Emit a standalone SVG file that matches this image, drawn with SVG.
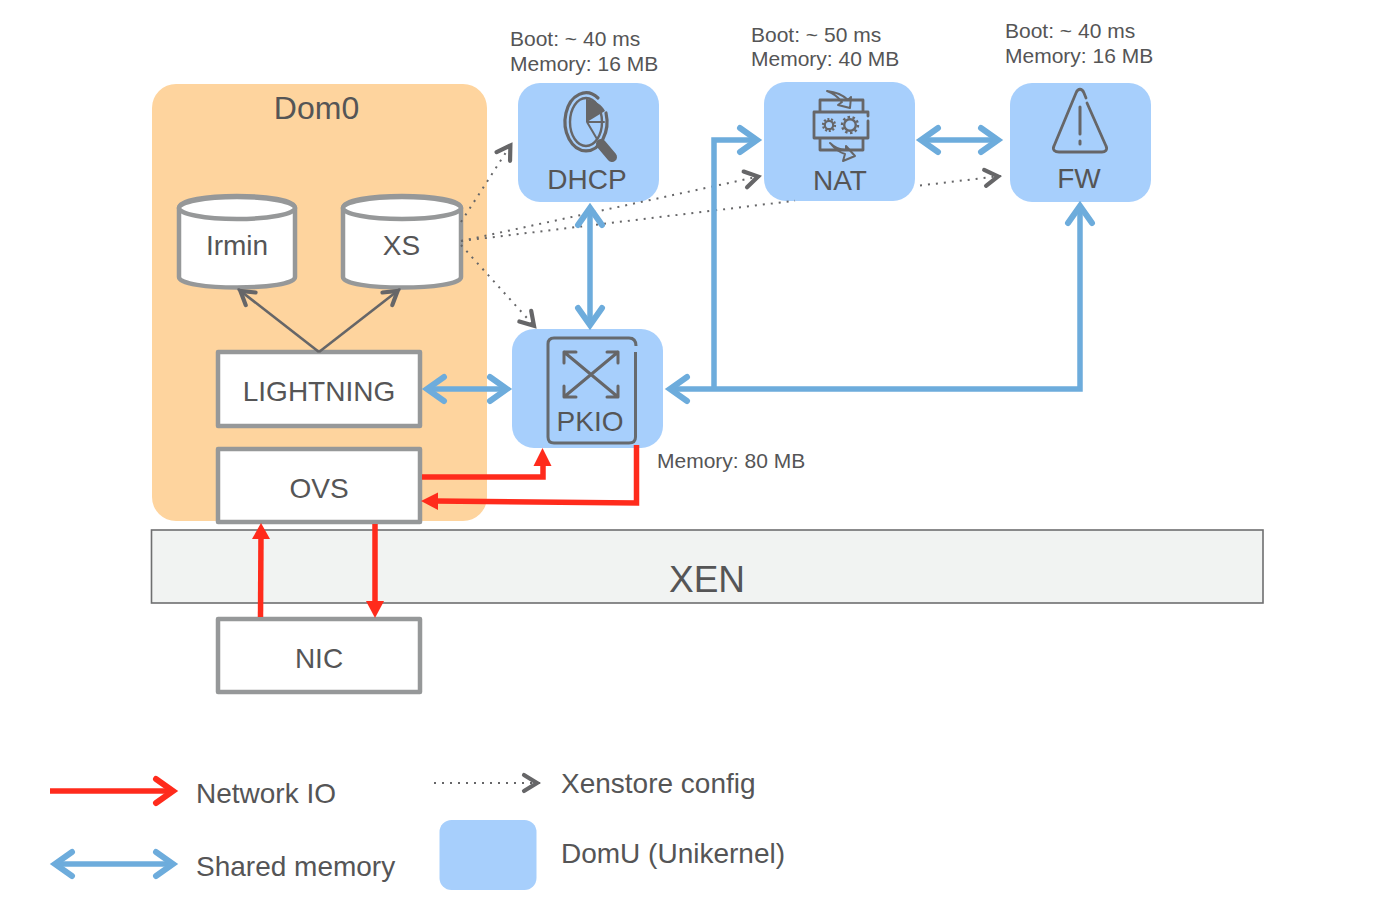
<svg xmlns="http://www.w3.org/2000/svg" width="1390" height="904" viewBox="0 0 1390 904">
<style>
text{font-family:"Liberation Sans",Arial,sans-serif;fill:#555556}
.lbl{font-size:28px;text-anchor:middle}
.note{font-size:21px}
.leg{font-size:28px}
.domu{fill:#a7cffc}
.box{fill:#fff;stroke:#969899;stroke-width:4.5;stroke-linejoin:round}
.ic{fill:none;stroke:#666668;stroke-width:2.8;stroke-linejoin:round;stroke-linecap:round}
.thin{stroke-width:2}
.icf{fill:#666668;stroke:none}
.blue{fill:none;stroke:#6dacdc;stroke-width:5.500}
.red{fill:none;stroke:#ff2b1c;stroke-width:5.500}
.redf{fill:#ff2b1c}
.dot{fill:none;stroke:#666668;stroke-width:2;stroke-dasharray:2 6}
.gray{fill:none;stroke:#666668;stroke-width:2.600}
</style>
<defs>
<marker id="mb" markerUnits="userSpaceOnUse" markerWidth="34" markerHeight="34" refX="25" refY="15" orient="auto-start-reverse" overflow="visible"><path d="M7 3 L24 15 L7 27" fill="none" stroke="#6dacdc" stroke-width="6" stroke-linecap="round"/></marker>
<marker id="mr" markerUnits="userSpaceOnUse" markerWidth="34" markerHeight="34" refX="25" refY="15" orient="auto" overflow="visible"><path d="M7 3 L24 15 L7 27" fill="none" stroke="#ff2b1c" stroke-width="6" stroke-linecap="round"/></marker>
<marker id="mg" markerUnits="userSpaceOnUse" markerWidth="26" markerHeight="26" refX="20" refY="11" orient="auto" overflow="visible"><path d="M4 3 L17 11 L4 19" fill="none" stroke="#666668" stroke-width="4.200" stroke-linecap="round"/></marker>
</defs>

<g id="dom0"><rect x="152" y="84" width="335" height="437" rx="24" fill="#fed49e"/><text class="lbl" x="316.500" y="119" style="font-size:32px">Dom0</text></g>
<g id="xen"><rect x="151.500" y="530" width="1111.500" height="73" fill="#f1f3f2" stroke="#6f6f70" stroke-width="1.600"/><text class="lbl" x="707" y="592" style="font-size:37px">XEN</text></g>

<g id="dhcp"><rect class="domu" x="518" y="83" width="141" height="119" rx="22"/>
<path class="ic" style="stroke-width:3.200" d="M598 98 A21 29 0 1 0 606 113"/>
<ellipse class="ic" style="stroke-width:2.400" cx="586" cy="122" rx="16" ry="24"/>
<path class="icf" d="M586 99 C595 100 602 105 605 111 L587 122 Z"/>
<path class="ic thin" d="M587 100 V122 H604 M587 122 L597 139"/>
<path d="M601 144 L612 157" stroke="#666668" stroke-width="10" stroke-linecap="round" fill="none"/>
<text class="lbl" x="587" y="189">DHCP</text></g>

<g id="nat"><rect class="domu" x="764" y="82" width="151" height="119" rx="22"/>
<path class="ic" d="M820 112 V100 H863 V112 M868 116 V112 H814 V138 H868 V121 M820 138 V150 H863 V138"/>
<path class="ic thin" d="M827 91 C836 92 843 95 848 100 L851 97 L850 108 L838 105 L842 102 C838 97 833 93 827 91 Z"/>
<path class="ic thin" d="M830 143 C834 148 838 152 845 154 L843 161 L855 156 L846 146 L846 150 C840 150 834 147 830 143 Z"/>
<circle class="ic" cx="829" cy="125" r="4.200" style="stroke-width:2.200"/>
<circle cx="829" cy="125" r="6" fill="none" stroke="#666668" stroke-width="2.200" stroke-dasharray="2 1.700"/>
<circle class="ic" cx="850" cy="125" r="5.800" style="stroke-width:2.400"/>
<circle cx="850" cy="125" r="8" fill="none" stroke="#666668" stroke-width="2.400" stroke-dasharray="2.500 2.500"/>
<text class="lbl" x="840" y="189.500">NAT</text></g>

<g id="fw"><rect class="domu" x="1010" y="83" width="141" height="119" rx="22"/>
<path class="ic" d="M1087 103 L1106 146 C1108 150 1105 152 1102 152 L1059 152 C1055 152 1052 150 1054 146 L1076 93 C1078 88 1082 88 1084 93 L1086 98"/>
<path class="ic" style="stroke-width:3" d="M1080 107 V134 M1080 141 V144"/>
<text class="lbl" x="1079" y="188">FW</text></g>

<g id="pkio"><rect class="domu" x="512" y="329" width="151" height="119" rx="22"/>
<path d="M635.500 352 V437 Q635.500 443 629 443 H554 Q548 443 548 437 V344 Q548 338 554 338 H629 Q636 338 636 346" fill="none" stroke="#666a6e" stroke-width="3"/>
<path class="ic" style="stroke-width:3" d="M564 352 L618 397 M618 352 L564 397 M564 363 V352 H576 M607 352 H618 V363 M564 386 V397 H576 M618 386 V397 H607"/>
<text class="lbl" x="590" y="430.500">PKIO</text></g>

<g id="irmin"><path class="box" d="M179 208 C179 192 295 192 295 208 V277 C295 291 179 291 179 277 Z"/><ellipse class="box" cx="237" cy="208" rx="58" ry="11"/><text class="lbl" x="237" y="255">Irmin</text></g>
<g id="xs"><path class="box" d="M343 208 C343 192 461 192 461 208 V277 C461 291 343 291 343 277 Z"/><ellipse class="box" cx="402" cy="208" rx="59" ry="11"/><text class="lbl" x="401.500" y="255">XS</text></g>
<g id="lightning"><rect class="box" x="218" y="352" width="202" height="74"/><text class="lbl" x="319" y="401">LIGHTNING</text></g>
<g id="ovs"><rect class="box" x="218" y="449" width="202" height="73"/><text class="lbl" x="319" y="498">OVS</text></g>
<g id="nic"><rect class="box" x="218" y="619" width="202" height="73"/><text class="lbl" x="319" y="668">NIC</text></g>

<g id="connectors">
<path class="dot" d="M461 222 L512 143" marker-end="url(#mg)"/>
<path class="dot" d="M461 241 L761 176" marker-end="url(#mg)"/>
<path class="dot" d="M461 241 L795 200.700"/>
<path class="dot" d="M920 185.500 L1001 176" marker-end="url(#mg)"/>
<path class="dot" d="M461 245 L536 328" marker-end="url(#mg)"/>
<path class="gray" d="M319 352 L238 289" marker-end="url(#mg)"/>
<path class="gray" d="M319 352 L400 289" marker-end="url(#mg)"/>
<path class="blue" d="M426 389 H508" marker-start="url(#mb)" marker-end="url(#mb)"/>
<path class="blue" d="M590 207 V326" marker-start="url(#mb)" marker-end="url(#mb)"/>
<path class="blue" d="M669 389 H1080 V205" marker-start="url(#mb)" marker-end="url(#mb)"/>
<path class="blue" d="M714 389 V140 H758" marker-end="url(#mb)"/>
<path class="blue" d="M920 140 H999" marker-start="url(#mb)" marker-end="url(#mb)"/>
<path class="red" d="M422 477 H543 V460"/><path class="redf" d="M542.500 448 L551.500 466 H533.500 Z"/>
<path class="red" d="M636.500 445 V503 L435 501"/><path class="redf" d="M421 501 L438 492.500 V510 Z"/>
<path class="red" d="M260.500 617 L261 535"/><path class="redf" d="M261 523 L270 539 H252 Z"/>
<path class="red" d="M375 524 V605"/><path class="redf" d="M375 618 L366 601 H384 Z"/>
</g>

<g id="notes">
<text class="note" x="510" y="46">Boot: ~ 40 ms</text>
<text class="note" x="510" y="71">Memory: 16 MB</text>
<text class="note" x="751" y="42">Boot: ~ 50 ms</text>
<text class="note" x="751" y="66">Memory: 40 MB</text>
<text class="note" x="1005" y="38">Boot: ~ 40 ms</text>
<text class="note" x="1005" y="63">Memory: 16 MB</text>
<text class="note" x="657" y="467.500">Memory: 80 MB</text>
</g>

<g id="legend">
<path class="red" d="M50 791 H174" marker-end="url(#mr)"/>
<path class="blue" d="M54 864 H174" marker-start="url(#mb)" marker-end="url(#mb)"/>
<path class="dot" d="M434 783 H540" marker-end="url(#mg)"/>
<rect class="domu" x="439.500" y="820" width="97" height="70" rx="12"/>
<text class="leg" x="196" y="803">Network IO</text>
<text class="leg" x="196" y="876">Shared memory</text>
<text class="leg" x="561" y="793">Xenstore config</text>
<text class="leg" x="561" y="863">DomU (Unikernel)</text>
</g>
</svg>
